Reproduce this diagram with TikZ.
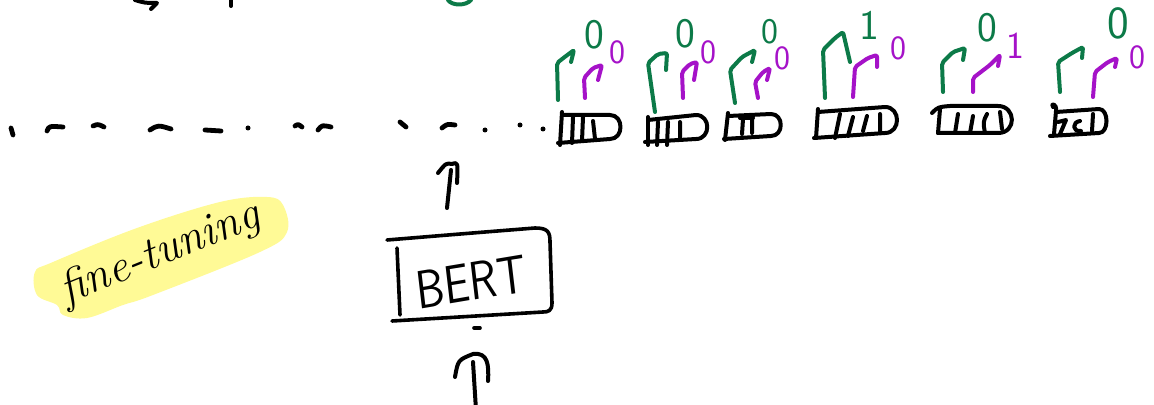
\documentclass[tikz,border=0pt]{standalone}
\usepackage{tikz}
\definecolor{inkgreen}{RGB}{12,122,72}
\definecolor{inkpurple}{RGB}{165,18,200}
\definecolor{hilite}{RGB}{255,250,150}
\tikzset{
  ink/.style={line width=2pt, line cap=round, line join=round},
  glabel/.style={text=inkgreen, font=\fontsize{21}{21}\selectfont\sffamily, inner sep=0pt},
  plabel/.style={text=inkpurple, font=\fontsize{17}{17}\selectfont\sffamily, inner sep=0pt},
  dotmark/.style={fill=black},
}
% prediction arrow: colour, base, corner, knee, tip, hook end
\newcommand\predarrow[6]{\draw[ink,#1,rounded corners=1pt] #2 -- #3 -- #4 -- #5 -- #6;}
\begin{document}
\begin{tikzpicture}[x=0.5pt,y=-0.5pt]
\useasboundingbox (0,0) rectangle (1154,405);

% strokes cut off along the top edge
\draw[ink] (135,0) .. controls (145,3) .. (157,3) -- (151,9);
\draw[ink] (231,0) -- (231,6);
\draw[ink,inkgreen] (448,0) .. controls (452,6) and (466,6) .. (471,0);

% dotted sequence leading into the token row
\draw[ink,line width=2.4pt] (11,128) -- (13,135);
\draw[ink,line width=2.4pt] (47,131) .. controls (49,126) .. (63,127);
\draw[ink,line width=2.4pt] (93,126) .. controls (98,124) .. (104,127);
\draw[ink,line width=2.4pt] (150,130) .. controls (158,125) .. (171,129);
\draw[ink,line width=2.4pt] (205,130) -- (221,131);
\fill[dotmark] (248,128) circle (2.5);
\draw[ink,line width=2.4pt] (295,126) .. controls (298,124) .. (302,127);
\draw[ink,line width=2.4pt] (318,130) .. controls (322,125) .. (331,127);
\draw[ink,line width=2.4pt] (400,122) -- (406,127);
\draw[ink,line width=2.4pt] (442,128) .. controls (447,124) .. (455,125);
\fill[dotmark] (485,130) circle (2.5);
\fill[dotmark] (520,125) circle (2.5);
\fill[dotmark] (543,129) circle (2.5);

% token boxes
\draw[ink] (562,112) -- (560,145);
\draw[ink] (562,115) -- (610,115) .. controls (624,115) and (624,139) .. (610,139) -- (558,143);
\draw[ink] (573,117) -- (572,143) (583,117) -- (582,141) (593,121) -- (595,139);

\draw[ink] (648,117) -- (648,145);
\draw[ink] (648,120) -- (696,115) .. controls (711,115) and (711,139) .. (696,139) -- (645,142);
\draw[ink] (658,122) -- (657,145) (668,122) -- (667,145) (680,122) -- (680,139);

\draw[ink] (728,113) -- (725,140);
\draw[ink] (728,116) -- (771,114) .. controls (784,114) and (784,136) .. (771,136) -- (724,139);
\draw[ink] (740,118) -- (753,118) (743,119) -- (742,134) (752,119) -- (752,133);

\draw[ink] (818,109) -- (816,138);
\draw[ink] (818,112) -- (885,107) .. controls (901,107) and (901,133) .. (885,133) -- (814,138);
\draw[ink] (840,114) -- (835,138) (853,117) -- (848,136) (867,116) -- (863,131) (880,114) -- (880,131);

\draw[ink] (932,113) .. controls (938,107) .. (950,106) -- (998,106) .. controls (1016,106) and (1017,133) .. (998,133) -- (938,133);
\draw[ink] (940,109) -- (938,133);
\draw[ink] (958,114) -- (955,133) (973,116) -- (970,133) (987,114) .. controls (983,122) .. (985,133) (1000,112) -- (1002,129);

\draw[ink] (1053,107) .. controls (1050,103) and (1057,103) .. (1056,111) -- (1054,134);
\draw[ink] (1056,112) -- (1099,109) .. controls (1109,109) and (1109,133) .. (1099,133) -- (1050,136);
\draw[ink] (1058,122) -- (1066,120) -- (1060,134);
\draw[ink] (1080,121) .. controls (1072,122) and (1072,132) .. (1081,131);
\draw[ink] (1093,114) -- (1092,131);

% per-token predictions
\predarrow{inkgreen}{(558,100)}{(557,63)}{(566,56)}{(574,50)}{(571,62)}
\predarrow{inkpurple}{(585,98)}{(584,78)}{(593,68)}{(602,65)}{(598,80)}
\node[glabel] (g1) at (594,35) {0};
\node[plabel] (p1) at (617,52) {0};

\predarrow{inkgreen}{(655,112)}{(648,63)}{(658,54)}{(667,53)}{(666,70)}
\predarrow{inkpurple}{(683,98)}{(682,72)}{(690,64)}{(697,62)}{(694,80)}
\node[glabel] (g2) at (685,34) {0};
\node[plabel] (p2) at (708,52) {0};

\predarrow{inkgreen}{(735,103)}{(730,70)}{(742,57)}{(755,50)}{(752,62)}
\predarrow{inkpurple}{(758,98)}{(755,82)}{(763,72)}{(770,68)}{(767,80)}
\node[glabel,font=\fontsize{18}{18}\selectfont\sffamily] (g3) at (770,32) {0};
\node[plabel] (p3) at (782,58) {0};

\predarrow{inkgreen}{(825,98)}{(823,50)}{(835,38)}{(843,32)}{(850,62)}
\predarrow{inkpurple}{(853,97)}{(855,67)}{(868,58)}{(877,55)}{(877,67)}
\node[glabel] (g4) at (869,25) {1};
\node[plabel] (p4) at (898,48) {0};

\predarrow{inkgreen}{(943,92)}{(942,63)}{(953,52)}{(965,48)}{(963,60)}
\predarrow{inkpurple}{(973,92)}{(973,78)}{(990,65)}{(1000,55)}{(998,66)}
\node[glabel] (g5) at (987,28) {0};
\node[plabel,font=\fontsize{19}{19}\selectfont\sffamily] (p5) at (1015,46) {1};

\predarrow{inkgreen}{(1060,92)}{(1058,62)}{(1072,53)}{(1083,47)}{(1082,58)}
\predarrow{inkpurple}{(1093,97)}{(1095,72)}{(1108,62)}{(1117,58)}{(1115,67)}
\node[glabel,font=\fontsize{23}{23}\selectfont\sffamily] (g6) at (1118,23) {0};
\node[plabel] (p6) at (1137,57) {0};

% BERT encoder
\draw[ink,line width=1.8pt] (387,240) .. controls (460,234) .. (535,228)
  .. controls (548,228) and (550,232) .. (550,242) -- (552,303)
  .. controls (552,311) and (548,312) .. (543,312) -- (392,321);
\draw[ink,line width=1.8pt] (397,248) -- (400,315);
\node[font=\fontsize{27}{27}\selectfont\sffamily, xscale=0.84, rotate=8, inner sep=0pt] (bert) at (471,282) {BERT};
\draw[ink,line width=1.8pt] (474,328) -- (480,328);

% arrow from BERT up to the token row
\coordinate (upfoot) at (447,208);
\coordinate (uptip) at (452,164);
\draw[ink] (upfoot) -- (451,170);
\draw[ink] (438,173) .. controls (446,163) .. (uptip) .. controls (458,162) .. (457,183);

% input arrow into BERT
\coordinate (infoot) at (476,410);
\coordinate (intip) at (473,354);
\draw[ink] (infoot) -- (473,362);
\draw[ink] (455,377) .. controls (458,360) .. (intip) .. controls (488,352) and (489,365) .. (488,381);

% highlighted label
\fill[hilite] plot[smooth cycle, tension=0.6] coordinates {(35,272) (53,262) (137,228) (220,202) (267,197) (283,205) (287,232) (260,252) (153,295) (123,305) (87,318) (63,315) (57,305) (37,295)};
\node[font=\fontsize{23}{23}\selectfont\itshape, rotate=22, inner sep=0pt] (ft) at (160,254) {fine-tuning};
\end{tikzpicture}
\end{document}
